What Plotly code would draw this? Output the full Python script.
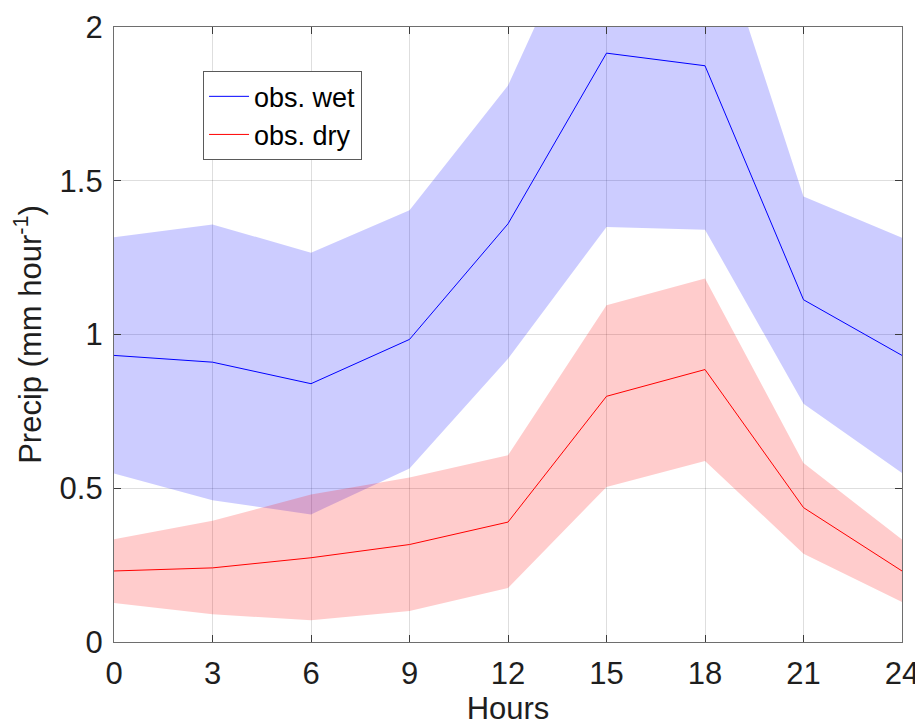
import plotly.graph_objects as go

hours = [0, 3, 6, 9, 12, 15, 18, 21, 24]

wet_mean = [0.932, 0.91, 0.84, 0.984, 1.36, 1.915, 1.874, 1.113, 0.932]
wet_upper = [1.316, 1.358, 1.266, 1.404, 1.81, 2.51, 2.43, 1.449, 1.315]
wet_lower = [0.548, 0.461, 0.415, 0.564, 0.921, 1.35, 1.341, 0.775, 0.55]

dry_mean = [0.231, 0.241, 0.274, 0.317, 0.39, 0.799, 0.886, 0.437, 0.231]
dry_upper = [0.334, 0.394, 0.48, 0.535, 0.607, 1.095, 1.182, 0.582, 0.333]
dry_lower = [0.127, 0.09, 0.071, 0.101, 0.176, 0.504, 0.589, 0.287, 0.13]

xticks = [0, 3, 6, 9, 12, 15, 18, 21, 24]
yticks = [0, 0.5, 1, 1.5, 2]
ytick_text = ["0", "0.5", "1", "1.5", "2"]

FONT = "Liberation Sans, Arial, Helvetica, sans-serif"
TXT = "rgb(30,30,30)"

fig = go.Figure()

# wet band
fig.add_trace(go.Scatter(
    x=hours + hours[::-1], y=wet_upper + wet_lower[::-1],
    fill="toself", fillcolor="rgba(0,0,255,0.2)", line=dict(width=0),
    mode="lines", showlegend=False, hoverinfo="skip"))
# dry band
fig.add_trace(go.Scatter(
    x=hours + hours[::-1], y=dry_upper + dry_lower[::-1],
    fill="toself", fillcolor="rgba(255,0,0,0.2)", line=dict(width=0),
    mode="lines", showlegend=False, hoverinfo="skip"))

fig.add_trace(go.Scatter(x=hours, y=wet_mean, mode="lines", name="obs. wet",
                         line=dict(color="rgb(0,0,255)", width=1)))
fig.add_trace(go.Scatter(x=hours, y=dry_mean, mode="lines", name="obs. dry",
                         line=dict(color="rgb(255,0,0)", width=1)))

axis_common = dict(
    showline=True, linecolor="rgb(110,110,110)", linewidth=1.3, mirror="ticks",
    ticks="inside", ticklen=7, tickcolor="rgb(60,60,60)", tickwidth=1,
    showgrid=True, gridcolor="rgba(0,0,0,0.13)", gridwidth=1,
    zeroline=False, automargin=False,
    tickfont=dict(size=31, color=TXT, family=FONT),
)

fig.update_xaxes(range=[0, 24], tickmode="array", tickvals=xticks,
                 title=dict(text="Hours", font=dict(size=31, color=TXT, family=FONT), standoff=9),
                 ticklabelstandoff=4, **axis_common)
fig.update_yaxes(range=[0, 2], tickmode="array", tickvals=yticks, ticktext=ytick_text,
                 title=dict(text="Precip (mm hour<sup>-1</sup>)", font=dict(size=31, color=TXT, family=FONT), standoff=9),
                 ticklabelstandoff=4, **axis_common)

# page body has an 8px margin, so the figure is offset by 8px
fig.update_layout(
    width=915, height=718,
    margin=dict(l=106, r=21, t=19, b=84),
    plot_bgcolor="white", paper_bgcolor="white",
    font=dict(family=FONT),
    legend=dict(x=0.113, y=0.928, xanchor="left", yanchor="top",
                bgcolor="white", bordercolor="rgb(90,90,90)", borderwidth=1,
                font=dict(size=27, color="black", family=FONT),
                tracegroupgap=0, itemwidth=40),
)

fig.write_html("out.html")
